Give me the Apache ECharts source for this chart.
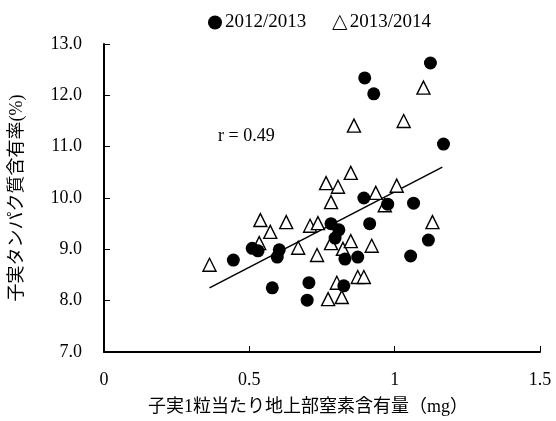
<!DOCTYPE html>
<html>
<head>
<meta charset="utf-8">
<script src="https://cdn.jsdelivr.net/npm/echarts@6/dist/echarts.min.js"></script>
<style>html,body{margin:0;padding:0;background:#fff;}#c{width:556px;height:421px;}</style>
</head>
<body>
<div id="c"></div>
<script>
var seriesNames = ['2012/2013', '2013/2014'];
var circles2012 = [
  [0.445, 8.79], [0.51, 9.02], [0.53, 8.97], [0.603, 8.99], [0.596, 8.85], [0.579, 8.25],
  [0.894, 10.0], [0.976, 9.88], [0.781, 9.5], [0.808, 9.38], [0.795, 9.22], [0.829, 8.81],
  [0.873, 8.85], [0.914, 9.5], [0.705, 8.35], [0.699, 8.01], [0.825, 8.29], [1.123, 12.63],
  [1.168, 11.05], [1.065, 9.9], [1.116, 9.18], [1.055, 8.87], [0.897, 12.34], [0.928, 12.03]
];
var triangles2013 = [
  [0.363, 8.70], [0.534, 9.12], [0.538, 9.57], [0.572, 9.34], [0.627, 9.53], [0.668, 9.03],
  [0.709, 9.46], [0.736, 9.51], [0.733, 8.89], [0.764, 10.29], [0.805, 10.22], [0.849, 10.49],
  [0.781, 9.92], [0.781, 9.12], [0.822, 9.01], [0.849, 9.16], [0.801, 8.35], [0.771, 8.03],
  [0.818, 8.07], [0.873, 8.46], [0.894, 8.46], [0.935, 10.1], [0.921, 9.07], [0.86, 11.41],
  [1.031, 11.5], [1.099, 12.15], [1.007, 10.24], [1.13, 9.53], [0.966, 9.86]
];
var regressionLine = [[0.363, 8.25], [1.164, 10.6]];
var corrText = 'r = 0.49';
var xTicks = [0, 0.5, 1, 1.5];
var yTicks = [7, 8, 9, 10, 11, 12, 13];
var xName = '子実1粒当たり地上部窒素含有量（mg）';
var yName = '子実タンパク質含有率(%)';

var serif = '"Liberation Serif", "DejaVu Serif", serif';
var cjk = '"Liberation Serif", "Noto Sans CJK JP", serif';
var chart = echarts.init(document.getElementById('c'), null, {renderer: 'canvas'});
chart.setOption({
  animation: false,
  backgroundColor: '#fff',
  grid: {left: 102, right: 16, top: 44, bottom: 69},
  legend: {
    top: 8, left: 203, itemGap: 26, itemWidth: 14, itemHeight: 14,
    textStyle: {fontFamily: serif, fontSize: 19, color: '#000', padding: [0, 0, 0, -2]},
    data: [
      {name: seriesNames[0], icon: 'circle', itemStyle: {color: '#000', opacity: 1}},
      {name: seriesNames[1], icon: 'triangle', itemStyle: {color: '#fff', borderColor: '#000', borderWidth: 1, opacity: 1}}
    ]
  },
  xAxis: {
    type: 'value', min: xTicks[0], max: xTicks[xTicks.length - 1], interval: 0.5,
    name: xName, nameLocation: 'middle', nameGap: 46,
    nameTextStyle: {fontFamily: cjk, fontSize: 18, color: '#000', padding: [0, 28, 0, 0]},
    axisLine: {lineStyle: {color: '#000', width: 2}},
    axisTick: {inside: true, length: 6, lineStyle: {color: '#000', width: 1}},
    axisLabel: {fontFamily: serif, fontSize: 18, color: '#000', margin: 19,
      formatter: function (v) { return String(v); }},
    splitLine: {show: false}
  },
  yAxis: {
    type: 'value', min: yTicks[0], max: yTicks[yTicks.length - 1], interval: 1,
    name: yName, nameLocation: 'middle', nameGap: 78, nameRotate: 90,
    nameTextStyle: {fontFamily: cjk, fontSize: 18, color: '#000'},
    axisLine: {lineStyle: {color: '#000', width: 2}},
    axisTick: {inside: true, length: 6, lineStyle: {color: '#000', width: 1}},
    axisLabel: {fontFamily: serif, fontSize: 18, color: '#000', margin: 22,
      formatter: function (v) { return v.toFixed(1); }},
    splitLine: {show: false}
  },
  graphic: [{
    type: 'text', left: 218, top: 127,
    style: {text: corrText, font: '18px ' + serif, fill: '#000'}
  }],
  series: [
    {
      name: 'regression', type: 'line', data: regressionLine, symbol: 'none',
      lineStyle: {color: '#000', width: 1.5}, silent: true, z: 1
    },
    {
      name: seriesNames[1], type: 'scatter', data: triangles2013, symbol: 'triangle', symbolSize: 13,
      itemStyle: {color: '#fff', borderColor: '#000', borderWidth: 1.4, opacity: 1}, z: 2
    },
    {
      name: seriesNames[0], type: 'scatter', data: circles2012, symbol: 'circle', symbolSize: 13,
      itemStyle: {color: '#000', opacity: 1}, z: 3
    }
  ]
});
</script>
</body>
</html>
